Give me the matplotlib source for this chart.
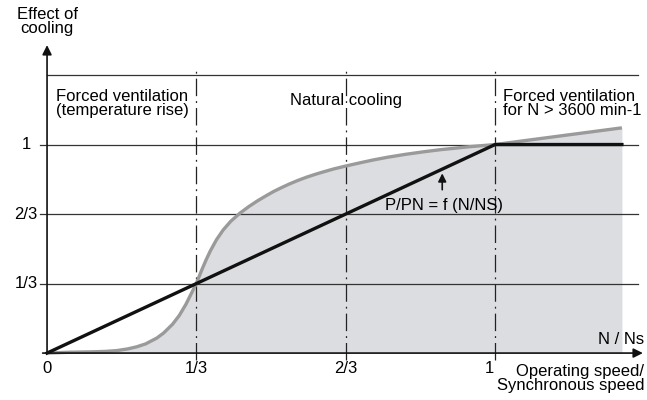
import numpy as np
import matplotlib.pyplot as plt

# speed ratio N/Ns and cooling effect
curve_x = [0, 0.05, 0.10, 0.13, 0.156, 0.18, 0.20, 0.22, 0.245, 0.26, 0.28,
           0.295, 0.31, 0.32, 0.333, 0.345, 0.355, 0.364, 0.378, 0.393, 0.41,
           0.43, 0.45, 0.469, 0.487, 0.505, 0.52, 0.54, 0.56, 0.58, 0.60,
           0.617, 0.64, 0.667, 0.70, 0.728, 0.76, 0.80, 0.84, 0.877, 0.94,
           1.0, 1.283]
curve_y = [0, 0.004, 0.006, 0.008, 0.012, 0.02, 0.03, 0.044, 0.072, 0.096,
           0.138, 0.18, 0.234, 0.277, 0.333, 0.397, 0.447, 0.488, 0.543, 0.59,
           0.632, 0.67, 0.702, 0.729, 0.752, 0.774, 0.79, 0.81, 0.828, 0.844,
           0.858, 0.869, 0.883, 0.897, 0.913, 0.926, 0.939, 0.953, 0.965,
           0.975, 0.989, 1.0, 1.08]
power_x = [0, 1, 1.283]
power_y = [0, 1, 1]

levels = [1/3, 2/3, 1, 4/3]
x_ticks = [0, 1/3, 2/3, 1]
x_labels = ["0", "1/3", "2/3", "1"]
y_ticks = [1/3, 2/3, 1]
y_labels = ["1/3", "2/3", "1"]

plt.rcParams['font.family'] = ['Liberation Sans', 'DejaVu Sans']
fs = 12

fig = plt.figure(figsize=(6.47, 4.0), dpi=100)
ax = fig.add_axes([0, 0, 1, 1])
ax.set_xlim(-0.105, 1.339)
ax.set_ylim(-0.225, 1.693)
ax.axis("off")

# grid lines
for lv in levels:
    x0 = 0 if lv > 1.2 else -0.016
    ax.plot([x0, 1.32], [lv, lv], color="#333333", lw=0.9, zorder=1)

for xv in [1/3, 2/3, 1]:
    ax.plot([xv, xv], [-0.034, 1.36], color="#222222", lw=0.9,
            linestyle=(0, (14, 4, 1.5, 4)), zorder=3)

ax.fill_between(curve_x, curve_y, 0, color="#dcdde0", zorder=0, lw=0)
ax.plot(curve_x, curve_y, color="#9a9a9a", lw=2.4, zorder=4,
        solid_capstyle="butt", solid_joinstyle="round")
ax.plot(power_x, power_y, color="#111111", lw=2.4, zorder=5,
        solid_joinstyle="miter")

# axes with arrows
ax.annotate("", xy=(1.336, 0), xytext=(-0.016, 0),
            arrowprops=dict(arrowstyle="-|>", color="#111111", lw=1.2,
                            mutation_scale=14), zorder=6)
ax.annotate("", xy=(0, 1.49), xytext=(0, -0.01),
            arrowprops=dict(arrowstyle="-|>", color="#111111", lw=1.2,
                            mutation_scale=14), zorder=6)

for xv, lab in zip(x_ticks, x_labels):
    ax.text(xv - (0.012 if xv == 1 else 0), -0.075, lab, ha="center",
            va="center", fontsize=fs)
for yv, lab in zip(y_ticks, y_labels):
    ax.text(-0.047, yv, lab, ha="center", va="center", fontsize=fs)

ax.text(0, 1.59, "Effect of\ncooling", ha="center", va="center",
        fontsize=fs, linespacing=0.92)
ax.text(1.333, 0.065, "N / Ns", ha="right", va="center", fontsize=fs)
ax.text(1.333, -0.12, "Operating speed/\nSynchronous speed", ha="right",
        va="center", fontsize=fs, linespacing=0.92)

ax.text(0.02, 1.195, "Forced ventilation\n(temperature rise)", ha="left",
        va="center", fontsize=fs, linespacing=0.92)
ax.text(2/3, 1.213, "Natural cooling", ha="center", va="center", fontsize=fs)
ax.text(1.018, 1.195, "Forced ventilation\nfor N > 3600 min-1", ha="left",
        va="center", fontsize=fs, linespacing=0.92)

ax.text(0.754, 0.71, "P/PN = f (N/NS)", ha="left", va="center", fontsize=fs,
        zorder=7)
ax.annotate("", xy=(0.882, 0.875), xytext=(0.882, 0.77),
            arrowprops=dict(arrowstyle="-|>", color="#111111", lw=1.2,
                            mutation_scale=12), zorder=7)

fig.savefig("out.png", dpi=100)
